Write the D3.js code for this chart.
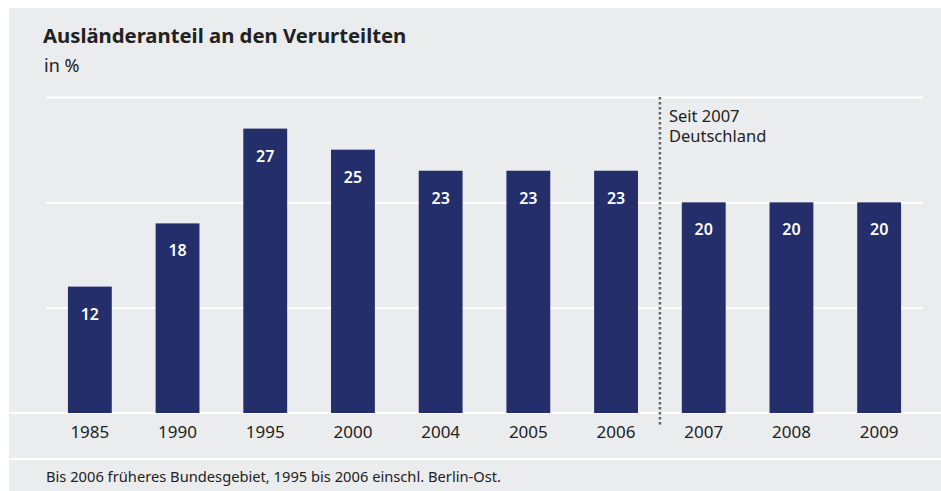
<!DOCTYPE html>
<html>
<head>
<meta charset="utf-8">
<script src="https://cdn.jsdelivr.net/npm/d3@7"></script>
<style>
  body { margin: 0; background: #fff; }
  svg text { font-family: "Noto Sans", sans-serif; fill: #222; }
</style>
</head>
<body>
<div id="chart"></div>
<script>
// data
var years = ["1985", "1990", "1995", "2000", "2004", "2005", "2006", "2007", "2008", "2009"];
var shares = [12, 18, 27, 25, 23, 23, 23, 20, 20, 20];
var gridTicks = [10, 20, 30];

var width = 941, height = 491;
var margin = {top: 97, right: 18, bottom: 78, left: 46};

var svg = d3.select("#chart")
    .append("svg")
        .attr("width", width)
        .attr("height", height);

// grey panel
svg.append("rect")
    .attr("x", 9).attr("y", 8)
    .attr("width", width - 9).attr("height", height - 8)
    .attr("fill", "#ebecee");

var x = d3.scaleBand()
    .domain(years)
    .range([margin.left, width - margin.right])
    .paddingInner(0.5)
    .paddingOuter(0.25);

var y = d3.scaleLinear()
    .domain([0, 30])
    .range([height - margin.bottom, margin.top]);

// gridlines
var grid = d3.axisLeft(y)
    .tickValues(gridTicks)
    .tickSize(-(width - margin.right - margin.left))
    .tickFormat("");

svg.append("g")
    .attr("class", "grid")
    .attr("transform", "translate(" + margin.left + ",0)")
    .call(grid)
    .call(function(g) { g.select(".domain").remove(); })
    .call(function(g) { g.selectAll("line").attr("stroke", "#fff").attr("stroke-width", 2); });

// baseline across the panel
svg.append("line")
    .attr("x1", 9).attr("x2", width)
    .attr("y1", y(0)).attr("y2", y(0))
    .attr("stroke", "#fff")
    .attr("stroke-width", 2);

// footer separator
svg.append("line")
    .attr("x1", 9).attr("x2", width)
    .attr("y1", 459).attr("y2", 459)
    .attr("stroke", "#fff")
    .attr("stroke-width", 2);

// bars
svg.selectAll(".bar")
    .data(shares)
    .enter().append("rect")
        .attr("class", "bar")
        .attr("x", function(d, i) { return x(years[i]); })
        .attr("y", function(d) { return y(d); })
        .attr("width", x.bandwidth())
        .attr("height", function(d) { return y(0) - y(d); })
        .attr("fill", "#232e6a");

// value labels
svg.selectAll(".val")
    .data(shares)
    .enter().append("text")
        .attr("class", "val")
        .attr("x", function(d, i) { return x(years[i]) + x.bandwidth() / 2; })
        .attr("y", function(d) { return y(d) + 33; })
        .attr("text-anchor", "middle")
        .style("fill", "#fff")
        .style("font-size", "16px")
        .style("font-weight", 600)
        .text(function(d) { return d; });

// x axis
var xAxis = d3.axisBottom(x).tickSize(0).tickPadding(13);
svg.append("g")
    .attr("class", "x axis")
    .attr("transform", "translate(0," + y(0) + ")")
    .call(xAxis)
    .call(function(g) { g.select(".domain").remove(); })
    .call(function(g) {
        g.selectAll("text")
            .style("font-size", "17px")
            .style("font-family", "'Noto Sans', sans-serif")
            .attr("fill", "#222");
    });

// dotted separator between 2006 and 2007
var sepX = x("2006") + x.bandwidth() + (x.step() - x.bandwidth()) / 2;
svg.append("line")
    .attr("x1", sepX).attr("x2", sepX)
    .attr("y1", y(30)).attr("y2", 427)
    .attr("stroke", "#666")
    .attr("stroke-width", 2.5)
    .attr("stroke-dasharray", "2.5,2.5");

// note, two lines
svg.append("text")
    .attr("x", sepX + 9)
    .attr("y", 122)
    .style("font-size", "16.5px")
    .selectAll("tspan")
    .data(["Seit 2007", "Deutschland"])
    .enter().append("tspan")
        .attr("x", sepX + 9)
        .attr("dy", function(d, i) { return i ? 20 : 0; })
        .text(function(d) { return d; });

// titles
svg.append("text")
    .attr("x", 43).attr("y", 43)
    .style("font-size", "20.3px")
    .style("font-weight", 700)
    .text("Ausländeranteil an den Verurteilten");

svg.append("text")
    .attr("x", 44).attr("y", 72)
    .style("font-size", "18px")
    .text("in %");

// footnote
svg.append("text")
    .attr("x", 46).attr("y", 482)
    .style("font-size", "14.7px")
    .text("Bis 2006 früheres Bundesgebiet, 1995 bis 2006 einschl. Berlin-Ost.");
</script>
</body>
</html>
